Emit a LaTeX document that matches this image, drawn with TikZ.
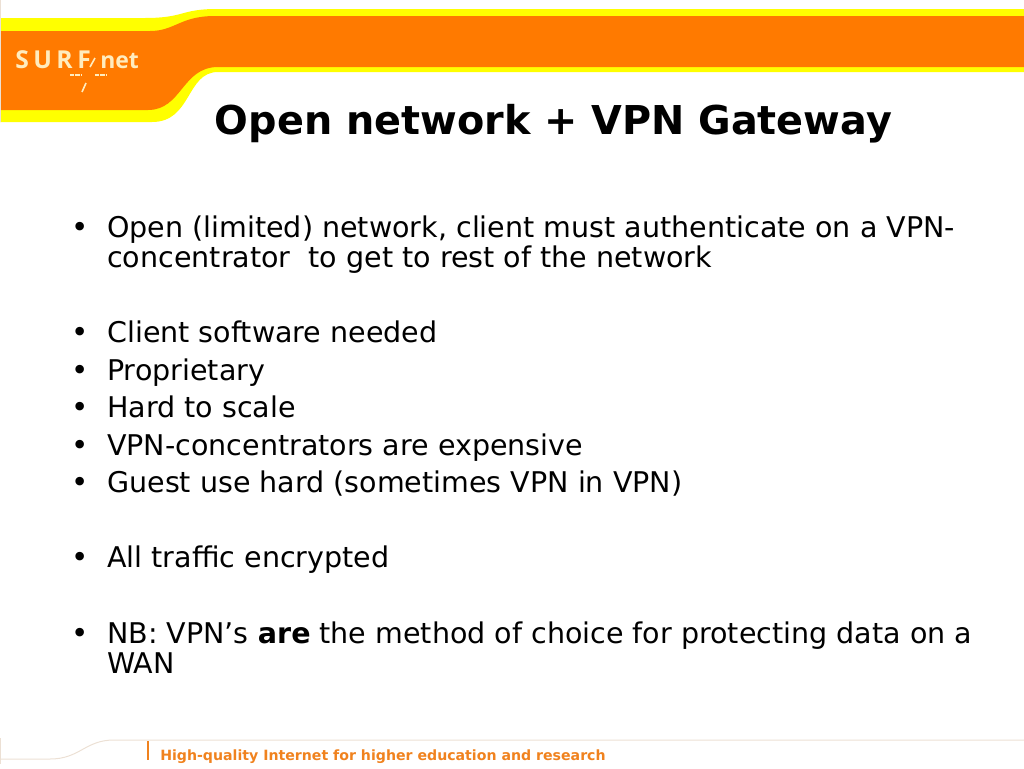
\documentclass[tikz,border=0pt]{standalone}
\usepackage{fontspec}
\setmainfont{DejaVu Sans}
\newfontfamily\logofont{Open Sans}
\definecolor{bandorange}{RGB}{255,122,0}
\definecolor{bandyellow}{RGB}{255,255,0}
\definecolor{logocream}{RGB}{255,236,190}
\definecolor{footline}{RGB}{236,224,212}
\definecolor{footorange}{RGB}{240,130,30}
\tikzset{
	titletext/.style={anchor=base, inner sep=0, font=\fontsize{29.8}{29.8}\selectfont\bfseries},
	bodytext/.style={anchor=base west, inner sep=0, font=\fontsize{21.4}{21.4}\selectfont},
	bullettext/.style={anchor=base west, inner sep=0, font=\fontsize{22}{22}\selectfont},
	logotext/.style={anchor=base west, inner sep=0, text=logocream, font=\fontsize{18.5}{18.5}\logofont\bfseries},
	logomark/.style={logocream, line width=1.2pt},
	foottext/.style={anchor=base west, inner sep=0, text=footorange, font=\fontsize{10.6}{10.6}\selectfont\bfseries}
}
\begin{document}
\begin{tikzpicture}[x=0.75pt, y=-0.75pt]
	\useasboundingbox (0,0) rectangle (1024,768);

	% header band
	\fill[bandyellow] (0,18) -- (145,18) .. controls (185,18) and (180,9) .. (217,9) -- (1024,9)
		-- (1024,72) -- (218,72) .. controls (186,72) and (192,122) .. (152,122) -- (0,122) -- cycle;
	\fill[bandorange] (0,31) -- (150,31) .. controls (175,31) and (180,16) .. (215,16) -- (1024,16)
		-- (1024,67) -- (218,67) .. controls (182,67) and (182,110) .. (148,110) -- (0,110) -- cycle;
	\draw[footline, line width=0.75pt] (0.5,0) -- (0.5,122);

	% logo
	\node[logotext] (logoa) at (15,68) {S};
	\node[logotext] (logob) at (33,68) {U};
	\node[logotext] (logoc) at (56,68) {R};
	\node[logotext] (logod) at (77,68) {F};
	\node[logotext, font=\fontsize{17.2}{17.2}\logofont\bfseries] (logoe) at (100,68) {net};
	\draw[logomark] (90,67) -- (95,58);
	\draw[logomark] (82,92) -- (86,83);
	\draw[logomark, line width=1.5pt, dash pattern=on 3.2pt off 0.8pt] (70,74.5) -- (81,74.5);
	\draw[logomark, line width=1.5pt, dash pattern=on 3.2pt off 0.8pt] (95,74.5) -- (106,74.5);

	% title
	\node[titletext] (title) at (553.5,134) {Open network + VPN Gateway};

	% bullets
	\foreach \name/\ypos in {a/237, b/342, c/380, d/417, e/455, f/492, g/567, h/643}
		\node[bullettext] (dot\name) at (71,\ypos) {•};

	\node[bodytext] (linea) at (107,237) {Open (limited) network, client must authenticate on a VPN-};
	\node[bodytext] (lineb) at (107,267) {concentrator\ \ to get to rest of the network};
	\node[bodytext] (linec) at (107,342) {Client software needed};
	\node[bodytext] (lined) at (107,380) {Proprietary};
	\node[bodytext] (linee) at (107,417) {Hard to scale};
	\node[bodytext] (linef) at (107,455) {VPN-concentrators are expensive};
	\node[bodytext] (lineg) at (107,492) {Guest use hard (sometimes VPN in VPN)};
	\node[bodytext] (lineh) at (107,567) {All traffic encrypted};
	\node[bodytext] (linei) at (107,643) {NB: VPN’s \textbf{are} the method of choice for protecting data on a};
	\node[bodytext] (linej) at (107,673) {WAN};

	% footer
	\draw[footline, line width=0.75pt] (0,759) -- (50,759) .. controls (80,759) and (85,740) .. (114,740) -- (1024,740);
	\draw[footline, line width=0.75pt] (0.5,738) -- (0.5,764);
	\draw[footorange, line width=1.5pt] (147.5,741) -- (147.5,760);
	\node[foottext] (foot) at (160,760) {High-quality Internet for higher education and research};
\end{tikzpicture}
\end{document}
